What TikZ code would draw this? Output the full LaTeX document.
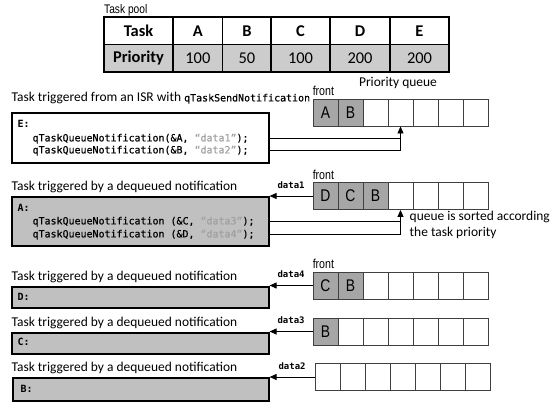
\documentclass[tikz,border=0pt]{standalone}
\usepackage{fontspec}
\setmainfont{Carlito}
\setmonofont{DejaVu Sans Mono}
\newfontfamily\codefont{DejaVu Sans Mono}[FakeBold=0.5]
\newfontfamily\narrowfont{Liberation Sans}[FakeStretch=0.82]
\usetikzlibrary{positioning,arrows.meta}
\definecolor{rowgray}{HTML}{CCCCCC}
\definecolor{cellgray}{HTML}{A6A6A6}
\definecolor{boxgray}{HTML}{C0C0C0}
\definecolor{strgray}{HTML}{A0A0A0}
\newcommand{\codestr}[1]{\textcolor{strgray}{#1}}

\begin{document}
\begin{tikzpicture}[x=1bp,y=-1bp,
    headcell/.style={draw,line width=1.2bp,inner sep=0pt,minimum height=27.5bp,font=\fontsize{16.5}{18}\selectfont\bfseries},
    valcell/.style={headcell,fill=rowgray,font=\fontsize{16.5}{18}\selectfont},
    qcell/.style={draw=black!75,line width=0.9bp,inner sep=0pt,minimum width=25bp,minimum height=27bp,font=\narrowfont\fontsize{17}{18}\selectfont},
    qfull/.style={fill=cellgray},
    taskbox/.style={draw,line width=1.2bp,inner sep=0pt,minimum width=257bp},
    tasktitle/.style={anchor=base west,inner sep=0pt,font=\fontsize{13.5}{16}\selectfont},
    codetext/.style={anchor=base west,inner sep=0pt,font=\codefont\fontsize{10}{12}\selectfont},
    codename/.style={codetext,font=\ttfamily\bfseries\fontsize{10}{12}\selectfont},
    datalabel/.style={above=7bp,inner sep=0pt,font=\ttfamily\bfseries\fontsize{9}{10}\selectfont},
    frontlabel/.style={anchor=base west,inner sep=0pt,font=\narrowfont\fontsize{13}{14}\selectfont},
    arrowline/.style={line width=0.9bp,-{Triangle[length=7bp,width=6bp]}},
    plainline/.style={line width=0.9bp}
    ]
    \useasboundingbox (0,0) rectangle (559,405);

    % task pool table
    \node(pool_title) [anchor=base west,inner sep=0pt,font=\narrowfont\fontsize{12.5}{14}\selectfont] at (104,13) {Task pool};
    \node(t_task) [headcell,minimum width=69bp] at (138.5,30.75) {Task};
    \node(p_task) [valcell,minimum width=69bp,font=\fontsize{16.5}{18}\selectfont\bfseries] at (138.5,58.25) {Priority};
    \foreach \name/\x/\w/\task/\prio in {a/197.9/49.7/A/100, b/246.9/48.3/B/50, c/300.5/59/C/100, d/360/60/D/200, e/419.5/59/E/200} {
      \node(t_\name) [headcell,minimum width=\w bp] at (\x,30.75) {\task};
      \node(p_\name) [valcell,minimum width=\w bp] at (\x,58.25) {\prio};
    }

    \node(pq_title) [font=\fontsize{13.5}{16}\selectfont] at (398,83) {Priority queue};

    % queues
    \foreach \t [count=\i] in {A,B} \node(q1c\i) [qcell,qfull] at (300.5+25*\i,112.5) {\t};
    \foreach \i in {3,...,7} \node(q1c\i) [qcell] at (300.5+25*\i,112.5) {};
    \foreach \t [count=\i] in {D,C,B} \node(q2c\i) [qcell,qfull] at (300.5+25*\i,196) {\t};
    \foreach \i in {4,...,7} \node(q2c\i) [qcell] at (300.5+25*\i,196) {};
    \foreach \t [count=\i] in {C,B} \node(q3c\i) [qcell,qfull] at (300.5+25*\i,285.5) {\t};
    \foreach \i in {3,...,7} \node(q3c\i) [qcell] at (300.5+25*\i,285.5) {};
    \node(q4c1) [qcell,qfull] at (325.5,331.5) {B};
    \foreach \i in {2,...,7} \node(q4c\i) [qcell] at (300.5+25*\i,331.5) {};
    \foreach \i in {1,...,7} \node(q5c\i) [qcell] at (302.5+25*\i,377) {};

    \node(q1_front) [frontlabel] at ([shift={(0,-3)}]q1c1.north west) {front};
    \node(q2_front) [frontlabel] at ([shift={(0,-3)}]q2c1.north west) {front};
    \node(q3_front) [frontlabel] at ([shift={(0,-3)}]q3c1.north west) {front};

    % task E
    \node(box_e) [taskbox,minimum height=50bp] at (140.5,138) {};
    \node(e_title) [tasktitle] at ([shift={(0,-11)}]box_e.north west) {Task triggered from an ISR with {\codefont\fontsize{10}{12}\selectfont qTaskSendNotification}};
    \node(e_name) [codename] at ([shift={(6,15)}]box_e.north west) {E:};
    \node(e_code1) [codetext] at ([shift={(21,29)}]box_e.north west) {qTaskQueueNotification(\&A, \codestr{“data1”});};
    \node(e_code2) [codetext] at ([shift={(21,41)}]box_e.north west) {qTaskQueueNotification(\&B, \codestr{“data2”});};
    \draw[plainline] (e_code1 -| box_e.east) -- (e_code1 -| q1c4.south);
    \draw[arrowline] (e_code2 -| box_e.east) -| (q1c4.south);

    % task A
    \node(box_a) [taskbox,fill=boxgray,minimum height=49bp] at (140.5,221.5) {};
    \node(a_title) [tasktitle] at ([shift={(0,-6)}]box_a.north west) {Task triggered by a dequeued notification};
    \node(a_name) [codename] at ([shift={(6,15)}]box_a.north west) {A:};
    \node(a_code1) [codetext] at ([shift={(21,28)}]box_a.north west) {qTaskQueueNotification (\&C, \codestr{“data3”});};
    \node(a_code2) [codetext] at ([shift={(21,41)}]box_a.north west) {qTaskQueueNotification (\&D, \codestr{“data4”});};
    \draw[arrowline] (q2c1.west) -- node[datalabel] {data1} (q2c1.west -| box_a.east);
    \draw[plainline] (a_code1 -| box_a.east) -- (a_code1 -| q2c4.south);
    \draw[arrowline] (a_code2 -| box_a.east) -| (q2c4.south);
    \node(sort_note) [anchor=north west,align=left,inner sep=0pt,font=\fontsize{13.5}{16}\selectfont] at ([shift={(9,1)}]q2c4.south) {queue is sorted according\\the task priority};

    % task D
    \node(box_d) [taskbox,fill=boxgray,minimum height=21bp] at (140.5,297.5) {};
    \node(d_title) [tasktitle] at ([shift={(0,-6)}]box_d.north west) {Task triggered by a dequeued notification};
    \node(d_name) [codename] at ([shift={(6,14)}]box_d.north west) {D:};
    \draw[arrowline] (q3c1.west) -- node[datalabel] {data4} (q3c1.west -| box_d.east);

    % task C
    \node(box_c) [taskbox,fill=boxgray,minimum height=21bp] at (140.5,343.5) {};
    \node(c_title) [tasktitle] at ([shift={(0,-6)}]box_c.north west) {Task triggered by a dequeued notification};
    \node(c_name) [codename] at ([shift={(6,13)}]box_c.north west) {C:};
    \draw[arrowline] (q4c1.west) -- node[datalabel] {data3} (q4c1.west -| box_c.east);

    % task B
    \node(box_b) [taskbox,fill=boxgray,minimum width=256bp,minimum height=23bp] at (141,389.5) {};
    \node(b_title) [tasktitle] at ([shift={(-1,-6)}]box_b.north west) {Task triggered by a dequeued notification};
    \node(b_name) [codename] at ([shift={(8,15)}]box_b.north west) {B:};
    \draw[arrowline] (q5c1.west) -- node[datalabel] {data2} (q5c1.west -| box_b.east);

\end{tikzpicture}
\end{document}
